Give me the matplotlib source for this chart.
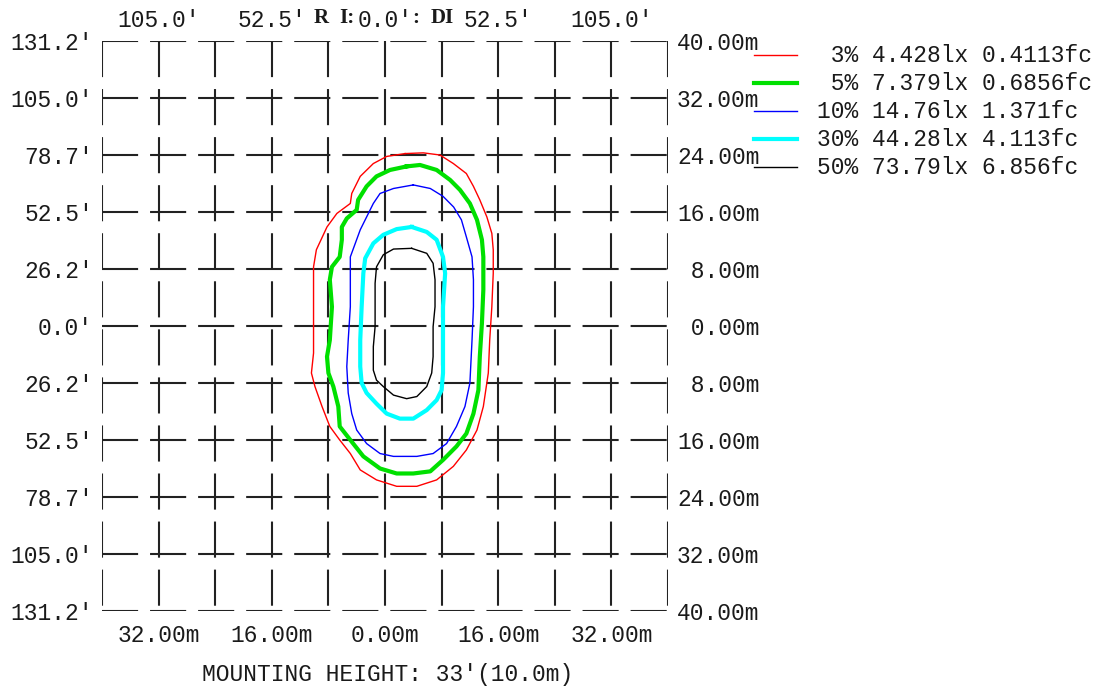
import matplotlib
matplotlib.use("Agg")
import matplotlib.pyplot as plt
from matplotlib.lines import Line2D

# isolux diagram, mounting height 10 m, grid in metres
grid_m = [-40, -32, -24, -16, -8, 0, 8, 16, 24, 32, 40]
left_labels = ["131.2'", "105.0'", "78.7'", "52.5'", "26.2'", "0.0'",
               "26.2'", "52.5'", "78.7'", "105.0'", "131.2'"]
right_labels = ["40.00m", "32.00m", "24.00m", "16.00m", " 8.00m", " 0.00m",
                " 8.00m", "16.00m", "24.00m", "32.00m", "40.00m"]
top_pos = [-32, -16, 0, 16, 32]
top_labels = ["105.0'", "52.5'", "0.0'", "52.5'", "105.0'"]
bottom_labels = ["32.00m", "16.00m", "0.00m", "16.00m", "32.00m"]

levels = [" 3% 4.428lx 0.4113fc", " 5% 7.379lx 0.6856fc", "10% 14.76lx 1.371fc",
          "30% 44.28lx 4.113fc", "50% 73.79lx 6.856fc"]
colors = ["#ff0000", "#00e000", "#0000ff", "#00ffff", "#000000"]
widths = [1.0, 3.0, 1.0, 3.0, 1.0]

# contour outlines (x, y in metres)
c3_x = [2.83, 5.42, 7.77, 9.66, 11.5, 12.5, 13.4, 14.4, 15.1, 15.3, 15.3, 15.1, 14.8, 14.6,
        13.9, 13.0, 11.5, 9.66, 7.3, 4.5, 1.65, -1.2, -3.5, -4.9, -6.4, -7.8, -8.9, -9.9,
        -10.4, -10.1, -10.1, -10.1, -10.1, -9.7, -8.2, -6.8, -4.9, -4.7, -3.5, -1.65, 0.24]
c3_y = [24.2, 24.3, 24.0, 22.8, 21.4, 19.6, 17.7, 15.3, 13.0, 10.7, 7.4, 2.7, -2.0, -6.6,
        -11.3, -14.6, -17.4, -19.7, -21.6, -22.5, -22.5, -21.6, -20.2, -17.9, -16.0, -14.1,
        -11.3, -8.5, -6.6, -3.8, 0.4, 5.1, 8.3, 10.7, 13.9, 15.8, 17.2, 18.6, 21.0, 22.8, 23.8]
c5_x = [3.06, 4.95, 7.3, 9.2, 10.6, 12.0, 13.0, 13.7, 13.9, 13.9, 13.7, 13.4, 13.2, 12.5,
        11.5, 10.1, 8.2, 6.4, 4.0, 1.65, -0.7, -3.06, -4.9, -6.4, -6.6, -7.3, -8.0, -8.2,
        -7.8, -7.5, -7.8, -7.5, -6.4, -6.1, -6.1, -5.4, -4.0, -3.8, -2.6, -1.2, 0.71]
c5_y = [22.4, 22.6, 21.9, 20.5, 19.1, 17.2, 14.9, 12.1, 9.7, 5.1, 0.4, -4.3, -9.0, -12.3,
        -15.1, -16.9, -18.8, -20.4, -20.7, -20.7, -20.0, -18.3, -16.0, -14.1, -11.3, -8.5,
        -6.6, -4.3, -2.0, 2.7, 6.5, 8.3, 9.7, 12.1, 13.9, 15.1, 16.3, 17.7, 19.6, 21.0, 21.9]
c10_x = [4.0, 6.4, 8.2, 9.7, 10.8, 11.5, 12.3, 12.5, 12.5, 12.3, 12.0, 11.3, 10.1, 8.7,
         6.8, 4.5, 1.2, -0.7, -2.6, -4.0, -4.7, -5.2, -5.4, -5.2, -4.9, -4.9, -4.9, -4.2,
         -3.5, -2.6, -1.65, -0.7, 1.2]
c10_y = [19.8, 19.3, 18.2, 16.7, 14.9, 12.5, 9.7, 6.5, 2.7, -2.0, -8.0, -11.3, -14.1, -16.5,
         -17.9, -18.3, -18.3, -17.9, -16.5, -14.6, -12.3, -9.4, -5.7, -2.0, 2.7, 6.5, 9.7,
         11.6, 13.5, 15.3, 17.2, 18.6, 19.3]
c30_x = [3.77, 5.9, 7.3, 8.2, 8.5, 8.2, 8.2, 8.2, 8.0, 7.3, 5.9, 4.0, 2.1, 0.24, -1.2,
         -2.6, -3.3, -3.5, -3.5, -3.3, -3.06, -2.8, -1.65, -0.24, 1.65]
c30_y = [13.9, 13.2, 12.1, 9.7, 7.4, 2.7, -2.0, -6.6, -9.0, -10.4, -11.8, -13.0, -13.0,
         -12.3, -10.9, -9.4, -8.0, -5.7, -2.0, 2.7, 7.4, 9.5, 11.6, 12.8, 13.6]
c50_x = [3.77, 5.9, 6.8, 7.07, 7.07, 6.8, 6.8, 6.6, 5.9, 4.5, 3.06, 1.2, -0.24, -1.2,
         -1.65, -1.65, -1.4, -1.4, -1.4, -1.2, -0.24, 1.2]
c50_y = [10.9, 10.2, 8.8, 6.5, 2.7, -0.1, -4.3, -6.6, -8.5, -9.9, -10.2, -9.7, -8.5, -7.6,
         -6.2, -2.9, -0.1, 2.7, 6.0, 8.3, 10.0, 10.8]
contours = [(c3_x, c3_y), (c5_x, c5_y), (c10_x, c10_y), (c30_x, c30_y), (c50_x, c50_y)]

plt.rcParams['lines.scale_dashes'] = False
mono = "Liberation Mono"
serif = "Liberation Serif"
txt_col = "#1a1a1a"

fig = plt.figure(figsize=(11.08, 6.86), dpi=100)
ax = fig.add_axes([102 / 1108, 75 / 686, 566 / 1108, 570 / 686])
ax.set_xlim(-40, 40)
ax.set_ylim(-40, 40)
ax.axis('off')

dash = (0, (26, 8.6))
for g in grid_m:
    ax.plot([-40, 40], [g, g], color="#222222", lw=1.5, linestyle=dash, solid_capstyle='butt')
    ax.plot([g, g], [40, -40], color="#222222", lw=1.5, linestyle=dash, solid_capstyle='butt')

for (xs, ys), c, w in zip(contours, colors, widths):
    ax.plot(list(xs) + [xs[0]], list(ys) + [ys[0]], color=c, lw=w, zorder=3)

ytr = ax.get_yaxis_transform()
xtr = ax.get_xaxis_transform()
for g, lab in zip(grid_m[::-1], left_labels):
    ax.text(-9 / 566, g - 0.35, lab, transform=ytr, ha='right', va='center',
            family=mono, fontsize=16.5, color=txt_col)
for g, lab in zip(grid_m[::-1], right_labels):
    ax.text(1 + 9 / 566, g - 0.35, lab, transform=ytr, ha='left', va='center',
            family=mono, fontsize=16.5, color=txt_col)
for p, lab in zip(top_pos, top_labels):
    ax.text(p, 1 + 21 / 570, lab, transform=xtr, ha='center', va='center',
            family=mono, fontsize=16.5, color=txt_col)
for p, lab in zip(top_pos, bottom_labels):
    ax.text(p, -25 / 570, lab, transform=xtr, ha='center', va='center',
            family=mono, fontsize=16.5, color=txt_col)

# garbled title fragments
title_y = 1 - 18 / 686
fig.text(314 / 1108, title_y, "R", family=serif, fontsize=15, fontweight='bold',
         ha='left', va='center', color=txt_col)
fig.text(339 / 1108, title_y, "I:", family=serif, fontsize=15, fontweight='bold',
         ha='left', va='center', color=txt_col)
fig.text(412 / 1108, title_y, ":", family=serif, fontsize=15, fontweight='bold',
         ha='left', va='center', color=txt_col)
fig.text(431 / 1108, title_y, "DI", family=serif, fontsize=15, fontweight='bold',
         ha='left', va='center', color=txt_col)

fig.text(388 / 1108, 11 / 686, "MOUNTING HEIGHT: 33'(10.0m)", family=mono, fontsize=16.5,
         ha='center', va='center', color=txt_col)

# legend
leg_y = [55, 83, 111, 139, 167]
for y, lab, c, w in zip(leg_y, levels, colors, widths):
    fy = 1 - y / 686
    fig.add_artist(Line2D([754 / 1108, 797 / 1108], [fy, fy], color=c, lw=w,
                          transform=fig.transFigure))
    fig.text(817 / 1108, fy, lab, family=mono, fontsize=16.5, ha='left', va='center',
             color=txt_col)

fig.savefig("out.png", dpi=100)
